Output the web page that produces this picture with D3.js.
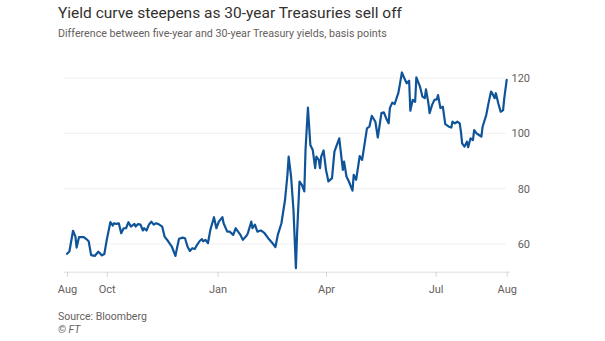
<!DOCTYPE html>
<html>
<head>
<meta charset="utf-8">
<script src="https://cdn.jsdelivr.net/npm/d3@7"></script>
<style>
  body { margin: 0; background: #fff; }
  svg { display: block; font-family: Roboto, "Open Sans", sans-serif; }
</style>
</head>
<body>
<svg id="chart" width="605" height="341"></svg>
<script>
// spread between 5yr and 30yr yields
const dates = [
  "2020-08-29","2020-08-31","2020-09-03","2020-09-05","2020-09-06","2020-09-08","2020-09-12","2020-09-14",
  "2020-09-16","2020-09-18","2020-09-21","2020-09-24","2020-09-27","2020-09-29","2020-10-01","2020-10-04",
  "2020-10-06","2020-10-07","2020-10-09","2020-10-11","2020-10-13","2020-10-15","2020-10-17","2020-10-19",
  "2020-10-21","2020-10-24","2020-10-25","2020-10-27","2020-10-29","2020-10-31","2020-11-01","2020-11-03",
  "2020-11-05","2020-11-07","2020-11-09","2020-11-11","2020-11-13","2020-11-16","2020-11-18","2020-11-21",
  "2020-11-24","2020-11-27","2020-11-28","2020-11-30","2020-12-03","2020-12-05","2020-12-07","2020-12-09",
  "2020-12-11","2020-12-13","2020-12-15","2020-12-17","2020-12-19","2020-12-20","2020-12-22","2020-12-24",
  "2020-12-26","2020-12-29","2020-12-31","2021-01-02","2021-01-05","2021-01-06","2021-01-09","2021-01-11",
  "2021-01-14","2021-01-16","2021-01-18","2021-01-20","2021-01-22","2021-01-25","2021-01-26","2021-01-29",
  "2021-01-30","2021-02-01","2021-02-03","2021-02-06","2021-02-09","2021-02-12","2021-02-16","2021-02-18",
  "2021-02-20","2021-02-23","2021-02-26","2021-02-28","2021-03-01","2021-03-03","2021-03-05","2021-03-07",
  "2021-03-08","2021-03-10","2021-03-12","2021-03-14","2021-03-15","2021-03-17","2021-03-19","2021-03-21",
  "2021-03-23","2021-03-24","2021-03-26","2021-03-27","2021-03-28","2021-03-30","2021-04-01","2021-04-03",
  "2021-04-06","2021-04-08","2021-04-12","2021-04-15","2021-04-16","2021-04-18","2021-04-20","2021-04-23",
  "2021-04-24","2021-04-26","2021-04-29","2021-05-01","2021-05-05","2021-05-07","2021-05-09","2021-05-12",
  "2021-05-14","2021-05-17","2021-05-19","2021-05-21","2021-05-23","2021-05-24","2021-05-26","2021-05-28",
  "2021-05-31","2021-06-01","2021-06-03","2021-06-05","2021-06-07","2021-06-09","2021-06-10","2021-06-12",
  "2021-06-14","2021-06-15","2021-06-18","2021-06-20","2021-06-22","2021-06-23","2021-06-25","2021-06-26",
  "2021-06-28","2021-06-30","2021-07-02","2021-07-03","2021-07-05","2021-07-07","2021-07-09","2021-07-12",
  "2021-07-14","2021-07-15","2021-07-17","2021-07-19","2021-07-21","2021-07-22","2021-07-23","2021-07-25",
  "2021-07-27","2021-07-28","2021-07-30","2021-08-01","2021-08-02","2021-08-04","2021-08-06","2021-08-08",
  "2021-08-09","2021-08-12","2021-08-14","2021-08-16","2021-08-17","2021-08-19","2021-08-20","2021-08-22",
  "2021-08-24","2021-08-26","2021-08-27","2021-08-29"
];

const spread = [
  56.5,57.3,64.8,62.7,58.7,62.5,62.5,61.8,
  61.0,56.0,55.7,57.2,55.9,56.4,61.5,67.9,
  66.7,67.5,67.3,67.5,63.9,65.7,65.7,67.9,
  66.3,67.3,66.3,67.2,67.0,64.9,65.7,64.9,
  67.0,68.1,67.0,67.5,67.2,66.3,62.7,61.0,
  59.1,55.7,57.9,61.9,62.3,62.1,59.1,57.5,
  58.5,58.2,59.7,61.0,61.8,61.0,61.5,60.3,
  65.1,69.7,65.7,68.1,69.7,67.5,64.5,64.5,
  63.3,65.7,64.5,63.3,61.5,63.0,63.7,68.1,
  65.7,67.0,64.5,64.9,63.9,62.1,60.1,58.9,
  63.3,67.5,76.0,85.0,91.6,84.4,72.3,51.3,
  63.9,82.6,81.4,79.0,94.0,109.3,95.8,94.0,
  87.4,91.6,90.4,87.4,91.6,93.8,86.8,82.6,
  83.8,93.4,98.2,86.8,89.8,84.4,82.6,79.3,
  85.0,83.2,91.8,90.4,101.8,102.4,106.3,104.2,
  98.5,107.3,107.6,105.4,103.6,109.1,111.1,110.6,
  114.5,116.9,122.0,119.9,118.1,119.0,108.2,112.1,
  111.4,120.2,116.9,113.3,112.7,115.9,110.9,107.3,
  110.2,112.1,112.3,113.8,109.1,109.6,103.3,102.4,
  102.1,104.2,103.6,104.2,103.6,100.6,96.4,95.2,
  97.0,95.0,98.2,97.6,101.2,100.0,99.4,98.8,
  102.4,106.6,111.1,115.1,114.5,112.7,114.5,110.9,
  107.8,108.4,112.7,119.3
];

const yTicks = [60, 80, 100, 120];
const xTickDates = ["2020-08-29", "2020-10-01", "2021-01-01", "2021-04-01", "2021-07-01", "2021-08-29"];

const title = "Yield curve steepens as 30-year Treasuries sell off";
const subtitle = "Difference between five-year and 30-year Treasury yields, basis points";
const source = "Source: Bloomberg";
const credit = "\u00A9 FT";

const parse = d3.timeParse("%Y-%m-%d");
const data = dates.map((d, i) => ({ date: parse(d), value: spread[i] }));

const svg = d3.select("#chart");

const x = d3.scaleTime()
  .domain([parse(dates[0]), parse(dates[dates.length - 1])])
  .range([67, 506.7]);

const y = d3.scaleLinear()
  .domain([50, 120])
  .range([271.7, 78]);

// gridlines
svg.append("g")
  .selectAll("line")
  .data(yTicks)
  .join("line")
  .attr("x1", 64)
  .attr("x2", 506)
  .attr("y1", d => y(d))
  .attr("y2", d => y(d))
  .style("stroke", "#f0f0f0")
  .style("stroke-width", 1);

// y labels on the right
svg.append("g")
  .selectAll("text")
  .data(yTicks)
  .join("text")
  .attr("x", 530)
  .attr("y", d => y(d))
  .attr("dy", "0.35em")
  .attr("text-anchor", "end")
  .style("font-size", "11px")
  .style("fill", "#66605c")
  .text(d => d);

// x axis
const xAxis = d3.axisBottom(x)
  .tickValues(xTickDates.map(parse))
  .tickFormat(d3.timeFormat("%b"))
  .tickSize(5)
  .tickPadding(9);

const gx = svg.append("g")
  .attr("transform", "translate(0," + y(50) + ")")
  .call(xAxis);

gx.select(".domain").attr("d", "M64,0.5H510").style("stroke", "#e0e0e0");
gx.selectAll(".tick line").style("stroke", "#d4d4d4");
gx.selectAll(".tick text")
  .style("font-family", "Roboto, 'Open Sans', sans-serif")
  .style("font-size", "11px")
  .style("fill", "#66605c");

// the line
const line = d3.line()
  .x(d => x(d.date))
  .y(d => y(d.value));

svg.append("path")
  .datum(data)
  .attr("d", line)
  .style("fill", "none")
  .style("stroke", "#0f5499")
  .style("stroke-width", 2.2)
  .style("stroke-linejoin", "round")
  .style("stroke-linecap", "round");

// texts
svg.append("text")
  .attr("x", 58)
  .attr("y", 18)
  .style("font-size", "15.5px")
  .style("fill", "#33302e")
  .text(title);

svg.append("text")
  .attr("x", 58)
  .attr("y", 37)
  .style("font-size", "10.7px")
  .style("fill", "#66605c")
  .text(subtitle);

svg.append("text")
  .attr("x", 58)
  .attr("y", 320)
  .style("font-size", "10.5px")
  .style("fill", "#66605c")
  .text(source);

svg.append("text")
  .attr("x", 58)
  .attr("y", 333)
  .style("font-size", "10.5px")
  .style("font-style", "italic")
  .style("fill", "#66605c")
  .text(credit);
</script>
</body>
</html>
